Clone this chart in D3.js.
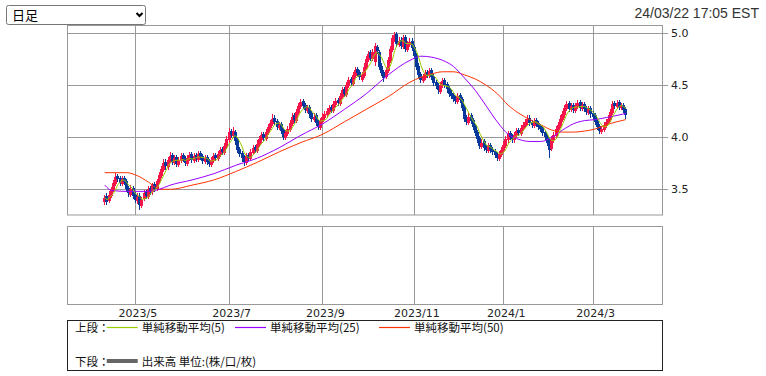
<!DOCTYPE html>
<html>
<head>
<meta charset="utf-8">
<script src="https://cdn.jsdelivr.net/npm/d3@7"></script>
<style>
  body { margin: 0; background: #fff; width: 766px; height: 376px; overflow: hidden; }
</style>
</head>
<body>
<div id="chart"></div>
<script>
// daily candles, 2023/4/11 .. 2024/3/22 (one value per trading day)
const opens = [
  3.38,3.44,3.39,3.44,3.49,3.55,3.63,3.61,3.55,3.61,3.58,3.51,3.45,3.51,3.45,3.39,3.44,3.34,3.41,3.47,
  3.43,3.51,3.47,3.55,3.50,3.57,3.63,3.69,3.76,3.71,3.77,3.83,3.75,3.81,3.73,3.77,3.83,3.80,3.74,3.79,
  3.84,3.77,3.83,3.78,3.85,3.82,3.76,3.81,3.77,3.73,3.77,3.83,3.79,3.83,3.89,3.85,3.91,3.97,4.06,4.01,
  4.05,3.97,3.89,3.85,3.81,3.75,3.83,3.79,3.85,3.91,3.87,3.93,3.97,4.03,3.98,4.04,4.09,4.13,4.19,4.16,
  4.09,4.13,4.07,3.99,4.03,4.07,4.13,4.21,4.16,4.23,4.29,4.35,4.31,4.25,4.29,4.23,4.17,4.21,4.15,4.09,
  4.15,4.19,4.21,4.24,4.29,4.25,4.31,4.36,4.32,4.39,4.46,4.41,4.49,4.56,4.51,4.59,4.66,4.63,4.55,4.59,
  4.67,4.74,4.82,4.75,4.72,4.87,4.82,4.69,4.63,4.58,4.64,4.73,4.84,4.94,4.99,4.89,4.94,4.87,4.96,4.84,
  4.89,4.93,4.87,4.79,4.69,4.61,4.54,4.57,4.63,4.59,4.65,4.59,4.53,4.50,4.44,4.49,4.55,4.51,4.47,4.43,
  4.41,4.38,4.34,4.41,4.37,4.29,4.19,4.14,4.21,4.17,4.11,4.05,3.99,3.91,3.96,3.91,3.87,3.93,3.89,3.87,
  3.84,3.79,3.83,3.87,3.92,3.97,4.04,4.01,3.97,4.01,4.07,4.03,4.08,4.11,4.14,4.19,4.15,4.11,4.17,4.14,
  4.11,4.09,4.05,4.01,3.96,3.89,3.97,4.01,4.07,4.11,4.17,4.21,4.27,4.33,4.26,4.31,4.25,4.29,4.34,4.27,
  4.32,4.28,4.23,4.28,4.23,4.21,4.16,4.11,4.05,4.07,4.11,4.14,4.17,4.23,4.33,4.29,4.34,4.28,4.31,4.27
];
const highs = [
  3.45,3.46,3.48,3.52,3.59,3.66,3.65,3.63,3.63,3.63,3.60,3.53,3.54,3.53,3.47,3.46,3.46,3.43,3.49,3.49,
  3.53,3.53,3.56,3.57,3.60,3.67,3.72,3.79,3.79,3.81,3.86,3.85,3.83,3.83,3.81,3.85,3.85,3.82,3.83,3.86,
  3.86,3.85,3.85,3.87,3.87,3.84,3.83,3.83,3.79,3.81,3.85,3.85,3.87,3.91,3.91,3.95,4.01,4.09,4.08,4.10,
  4.07,3.99,3.91,3.87,3.83,3.85,3.85,3.89,3.93,3.93,3.97,4.01,4.05,4.05,4.08,4.13,4.17,4.22,4.21,4.18,
  4.15,4.15,4.09,4.07,4.11,4.17,4.23,4.23,4.27,4.33,4.37,4.37,4.33,4.31,4.31,4.25,4.23,4.23,4.17,4.19,
  4.23,4.25,4.28,4.31,4.31,4.35,4.38,4.38,4.43,4.48,4.48,4.53,4.58,4.58,4.63,4.68,4.68,4.65,4.63,4.71,
  4.78,4.83,4.84,4.85,4.91,4.89,4.84,4.71,4.65,4.68,4.77,4.88,4.98,5.01,5.01,4.96,4.96,4.98,4.98,4.93,
  4.95,4.95,4.89,4.81,4.71,4.63,4.61,4.65,4.65,4.67,4.67,4.61,4.55,4.52,4.53,4.57,4.57,4.53,4.49,4.45,
  4.43,4.40,4.43,4.43,4.39,4.31,4.21,4.23,4.23,4.19,4.13,4.07,4.01,3.98,3.98,3.93,3.95,3.95,3.91,3.89,
  3.86,3.87,3.91,3.96,4.01,4.06,4.06,4.03,4.05,4.09,4.09,4.12,4.15,4.18,4.21,4.21,4.17,4.19,4.19,4.16,
  4.13,4.11,4.07,4.03,3.98,4.01,4.05,4.11,4.15,4.21,4.25,4.31,4.35,4.35,4.33,4.33,4.33,4.36,4.36,4.34,
  4.34,4.30,4.30,4.30,4.25,4.23,4.18,4.13,4.11,4.15,4.18,4.21,4.27,4.35,4.35,4.36,4.36,4.33,4.33,4.29
];
const lows = [
  3.35,3.35,3.37,3.42,3.47,3.53,3.57,3.53,3.53,3.54,3.47,3.43,3.43,3.41,3.37,3.36,3.30,3.32,3.39,3.41,
  3.41,3.45,3.45,3.47,3.48,3.55,3.61,3.67,3.69,3.69,3.75,3.73,3.73,3.71,3.71,3.75,3.76,3.72,3.72,3.77,
  3.75,3.75,3.76,3.76,3.78,3.74,3.74,3.73,3.71,3.71,3.75,3.77,3.77,3.81,3.83,3.83,3.89,3.95,3.99,3.99,
  3.93,3.85,3.81,3.76,3.72,3.73,3.77,3.77,3.83,3.85,3.85,3.91,3.95,3.96,3.96,4.02,4.07,4.11,4.12,4.07,
  4.07,4.03,3.97,3.97,4.01,4.05,4.11,4.14,4.14,4.21,4.27,4.27,4.23,4.23,4.19,4.15,4.15,4.11,4.07,4.07,
  4.13,4.17,4.19,4.22,4.23,4.23,4.29,4.30,4.30,4.37,4.39,4.39,4.47,4.49,4.49,4.57,4.59,4.55,4.53,4.57,
  4.65,4.72,4.73,4.73,4.69,4.80,4.65,4.59,4.53,4.56,4.62,4.71,4.82,4.92,4.87,4.87,4.85,4.85,4.82,4.82,
  4.87,4.83,4.75,4.65,4.57,4.52,4.52,4.55,4.57,4.57,4.55,4.49,4.46,4.42,4.42,4.47,4.47,4.43,4.39,4.37,
  4.34,4.32,4.32,4.33,4.25,4.15,4.12,4.12,4.13,4.07,4.01,3.95,3.89,3.89,3.87,3.85,3.85,3.85,3.83,3.80,
  3.77,3.77,3.81,3.85,3.90,3.95,3.97,3.95,3.95,3.99,4.01,4.01,4.06,4.09,4.12,4.11,4.09,4.09,4.10,4.07,
  4.05,4.01,3.97,3.92,3.80,3.87,3.95,3.99,4.05,4.09,4.15,4.19,4.25,4.24,4.24,4.23,4.23,4.27,4.25,4.25,
  4.24,4.21,4.21,4.19,4.17,4.12,4.07,4.03,4.03,4.05,4.09,4.12,4.15,4.21,4.27,4.27,4.26,4.26,4.23,4.18
];
const closes = [
  3.42,3.38,3.45,3.50,3.56,3.62,3.60,3.56,3.60,3.57,3.50,3.46,3.50,3.44,3.40,3.43,3.35,3.40,3.46,3.44,
  3.50,3.48,3.54,3.50,3.58,3.64,3.70,3.75,3.72,3.78,3.82,3.76,3.80,3.74,3.78,3.82,3.79,3.75,3.80,3.83,
  3.78,3.82,3.79,3.84,3.81,3.77,3.80,3.76,3.74,3.78,3.82,3.80,3.84,3.88,3.86,3.92,3.98,4.05,4.02,4.06,
  3.96,3.88,3.84,3.80,3.76,3.82,3.80,3.86,3.90,3.88,3.94,3.98,4.02,3.99,4.05,4.10,4.14,4.18,4.15,4.10,
  4.12,4.06,4.00,4.04,4.08,4.14,4.20,4.17,4.24,4.30,4.34,4.30,4.26,4.28,4.22,4.18,4.20,4.14,4.10,4.16,
  4.20,4.22,4.25,4.28,4.26,4.32,4.35,4.33,4.40,4.45,4.42,4.50,4.55,4.52,4.60,4.65,4.62,4.58,4.60,4.68,
  4.75,4.80,4.76,4.82,4.88,4.83,4.68,4.62,4.57,4.65,4.74,4.85,4.95,4.98,4.90,4.93,4.88,4.95,4.85,4.90,
  4.92,4.86,4.78,4.68,4.60,4.55,4.58,4.62,4.60,4.64,4.58,4.52,4.49,4.45,4.50,4.54,4.50,4.46,4.42,4.40,
  4.37,4.35,4.40,4.36,4.28,4.18,4.15,4.20,4.16,4.10,4.04,3.98,3.92,3.95,3.90,3.88,3.92,3.88,3.86,3.83,
  3.80,3.84,3.88,3.93,3.98,4.03,4.00,3.98,4.02,4.06,4.04,4.09,4.12,4.15,4.18,4.14,4.12,4.16,4.13,4.10,
  4.08,4.04,4.00,3.95,3.88,3.98,4.02,4.08,4.12,4.18,4.22,4.28,4.32,4.27,4.30,4.26,4.30,4.33,4.28,4.31,
  4.27,4.24,4.27,4.22,4.20,4.15,4.10,4.06,4.08,4.12,4.15,4.18,4.24,4.32,4.30,4.33,4.29,4.30,4.26,4.21
];

// 25-day and 50-day averages at these trading-day positions
const ma25Days = [0,3,10,20,25,30,40,50,60,70,80,90,100,110,120,130,140,145,150,155,160,165,170,175,180,185,190,195,200,205,210,215,220,225,230,235,239];
const ma25Vals = [3.54,3.49,3.48,3.48,3.50,3.54,3.59,3.65,3.73,3.80,3.90,4.02,4.13,4.27,4.42,4.60,4.74,4.78,4.77,4.74,4.68,4.57,4.45,4.30,4.15,4.03,3.98,3.96,3.96,4.00,4.07,4.13,4.16,4.17,4.19,4.21,4.23];
const ma50Days = [0,10,15,20,25,30,40,50,60,70,80,90,100,110,120,130,140,150,155,160,165,170,175,180,185,190,195,200,205,210,215,220,225,230,235,239];
const ma50Vals = [3.66,3.66,3.63,3.57,3.50,3.50,3.54,3.59,3.67,3.76,3.86,3.95,4.03,4.15,4.27,4.39,4.53,4.61,4.63,4.63,4.60,4.56,4.50,4.42,4.31,4.23,4.17,4.12,4.07,4.05,4.05,4.06,4.08,4.12,4.15,4.17];

// first trading day of each labelled month
const monthDays = [14, 57, 100, 142, 183, 224];
const monthLabels = ["2023/5", "2023/7", "2023/9", "2023/11", "2024/1", "2024/3"];
const priceTicks = [3.5, 4.0, 4.5, 5.0];
const stamp = "24/03/22 17:05 EST";
const periodLabel = "日足";

const W = 766, H = 376;
const upColor = "#f5154b", downColor = "#07399c";
const gridColor = "#999";

const svg = d3.select("#chart").append("svg")
  .attr("width", W).attr("height", H)
  .style("display", "block")
  .style("font-family", "'DejaVu Sans', sans-serif");

const x = d3.scaleLinear().domain([-17.2, 255.6]).range([67.3, 662]);
const y = d3.scaleLinear().domain([3.253, 5.073]).range([215, 25.7]);
const px = v => Math.floor(x(v)) + 0.5;

// period drop-down (drawn)
const sel = svg.append("g");
sel.append("rect")
  .attr("x", 6.5).attr("y", 5.5).attr("width", 139).attr("height", 19)
  .attr("rx", 2).attr("fill", "#fff").attr("stroke", "#767676");
sel.append("text")
  .attr("x", 12).attr("y", 20)
  .style("font-family", "'Noto Sans CJK JP', sans-serif")
  .style("font-size", "13px")
  .attr("fill", "#000")
  .text(periodLabel);
sel.append("path")
  .attr("d", "M136.5,13 L139.5,16 L142.5,13")
  .attr("fill", "none").attr("stroke", "#000").attr("stroke-width", 2);

// timestamp
svg.append("text")
  .attr("x", 759).attr("y", 18)
  .attr("text-anchor", "end")
  .style("font-family", "'Liberation Sans', Arial, sans-serif")
  .style("font-size", "14px")
  .attr("fill", "#333")
  .text(stamp);

// panels
const panels = [{top: 25.5, bottom: 215}, {top: 226.5, bottom: 304.5}];
panels.forEach(p => {
  svg.append("g").selectAll("line")
    .data(monthDays)
    .join("line")
    .attr("x1", d => px(d)).attr("x2", d => px(d))
    .attr("y1", p.top).attr("y2", p.bottom)
    .attr("stroke", gridColor);
});

// horizontal price grid, with the axis ticks running out to the labels
svg.append("g").selectAll("line")
  .data(priceTicks)
  .join("line")
  .attr("x1", 67).attr("x2", 662)
  .attr("y1", d => Math.round(y(d)) + 0.5).attr("y2", d => Math.round(y(d)) + 0.5)
  .attr("stroke", gridColor);

const yAxis = svg.append("g")
  .attr("transform", "translate(662,0)")
  .call(d3.axisRight(y).tickValues(priceTicks).tickSize(6).tickPadding(3).tickFormat(d3.format(".1f")));
yAxis.select(".domain").remove();
yAxis.selectAll(".tick").attr("transform", d => `translate(0,${Math.round(y(d)) + 0.5})`);
yAxis.selectAll(".tick line").attr("stroke", gridColor);
yAxis.selectAll(".tick text").attr("fill", "#222").style("font-size", "11px").style("font-family", "'DejaVu Sans', sans-serif");

panels.forEach(p => {
  svg.append("rect")
    .attr("x", 67.5).attr("y", p.top)
    .attr("width", 595).attr("height", p.bottom - p.top)
    .attr("fill", "none").attr("stroke", gridColor);
});

const xAxis = svg.append("g")
  .attr("transform", "translate(0,305)")
  .call(d3.axisBottom(x).tickValues(monthDays).tickSize(0).tickPadding(4).tickFormat((d, i) => monthLabels[i]));
xAxis.select(".domain").remove();
xAxis.selectAll(".tick text")
  .attr("dx", 2)
  .attr("fill", "#222")
  .style("font-size", "11px")
  .style("font-family", "'DejaVu Sans', sans-serif");

// candles
svg.append("clipPath").attr("id", "clip")
  .append("rect").attr("x", 68).attr("y", 26).attr("width", 594).attr("height", 189);

const plot = svg.append("g").attr("clip-path", "url(#clip)");
const candles = closes.map((c, i) => ({i, o: opens[i], h: highs[i], l: lows[i], c}));

const cg = plot.append("g").attr("shape-rendering", "crispEdges");
cg.selectAll("line")
  .data(candles)
  .join("line")
  .attr("x1", d => Math.floor(x(d.i)) + 0.5).attr("x2", d => Math.floor(x(d.i)) + 0.5)
  .attr("y1", d => y(d.h)).attr("y2", d => y(d.l))
  .attr("stroke", d => d.c >= d.o ? upColor : downColor);
cg.selectAll("rect")
  .data(candles)
  .join("rect")
  .attr("x", d => Math.floor(x(d.i)) - 1)
  .attr("width", 3)
  .attr("y", d => y(Math.max(d.o, d.c)))
  .attr("height", d => Math.max(1, Math.abs(y(d.o) - y(d.c))))
  .attr("fill", d => d.c >= d.o ? upColor : downColor);

// simple moving average of 5 days from the closes
const ma5 = closes.map((c, i) => {
  const w = closes.slice(Math.max(0, i - 4), i + 1);
  return {i, v: d3.mean(w)};
});
const ma25 = ma25Days.map((d, k) => ({i: d, v: ma25Vals[k]}));
const ma50 = ma50Days.map((d, k) => ({i: d, v: ma50Vals[k]}));

const line = d3.line().x(d => x(d.i)).y(d => y(d.v));
const smooth = d3.line().x(d => x(d.i)).y(d => y(d.v)).curve(d3.curveMonotoneX);

plot.append("path").datum(ma50).attr("d", smooth)
  .attr("fill", "none").attr("stroke", "#ff3300").attr("stroke-width", 1);
plot.append("path").datum(ma25).attr("d", smooth)
  .attr("fill", "none").attr("stroke", "#9900ff").attr("stroke-width", 1);
plot.append("path").datum(ma5).attr("d", line)
  .attr("fill", "none").attr("stroke", "#99cc00").attr("stroke-width", 1);

// legend
const legend = svg.append("g")
  .style("font-family", "'Noto Sans CJK JP', sans-serif")
  .style("font-size", "11.5px");
legend.append("rect")
  .attr("x", 67.5).attr("y", 320.5).attr("width", 595).attr("height", 50)
  .attr("fill", "#fff").attr("stroke", "#222");

const legendItems = [
  {x: 106.7, color: "#99cc00", label: "単純移動平均(5)"},
  {x: 235, color: "#9900ff", label: "単純移動平均(25)"},
  {x: 379, color: "#ff3300", label: "単純移動平均(50)"}
];
legend.append("text").attr("x", 75).attr("y", 332).attr("fill", "#111").text("上段：");
legendItems.forEach(it => {
  legend.append("line")
    .attr("x1", it.x).attr("x2", it.x + 31)
    .attr("y1", 327.5).attr("y2", 327.5)
    .attr("stroke", it.color).attr("stroke-width", 1.2);
  legend.append("text").attr("x", it.x + 35).attr("y", 332).attr("fill", "#111").text(it.label);
});
legend.append("text").attr("x", 75).attr("y", 365.5).attr("fill", "#111").text("下段：");
legend.append("line")
  .attr("x1", 106.7).attr("x2", 137.7)
  .attr("y1", 361).attr("y2", 361)
  .attr("stroke", "#666").attr("stroke-width", 4);
legend.append("text").attr("x", 141.7).attr("y", 365.5).attr("fill", "#111").text("出来高 単位:(株/口/枚)");
</script>
</body>
</html>
